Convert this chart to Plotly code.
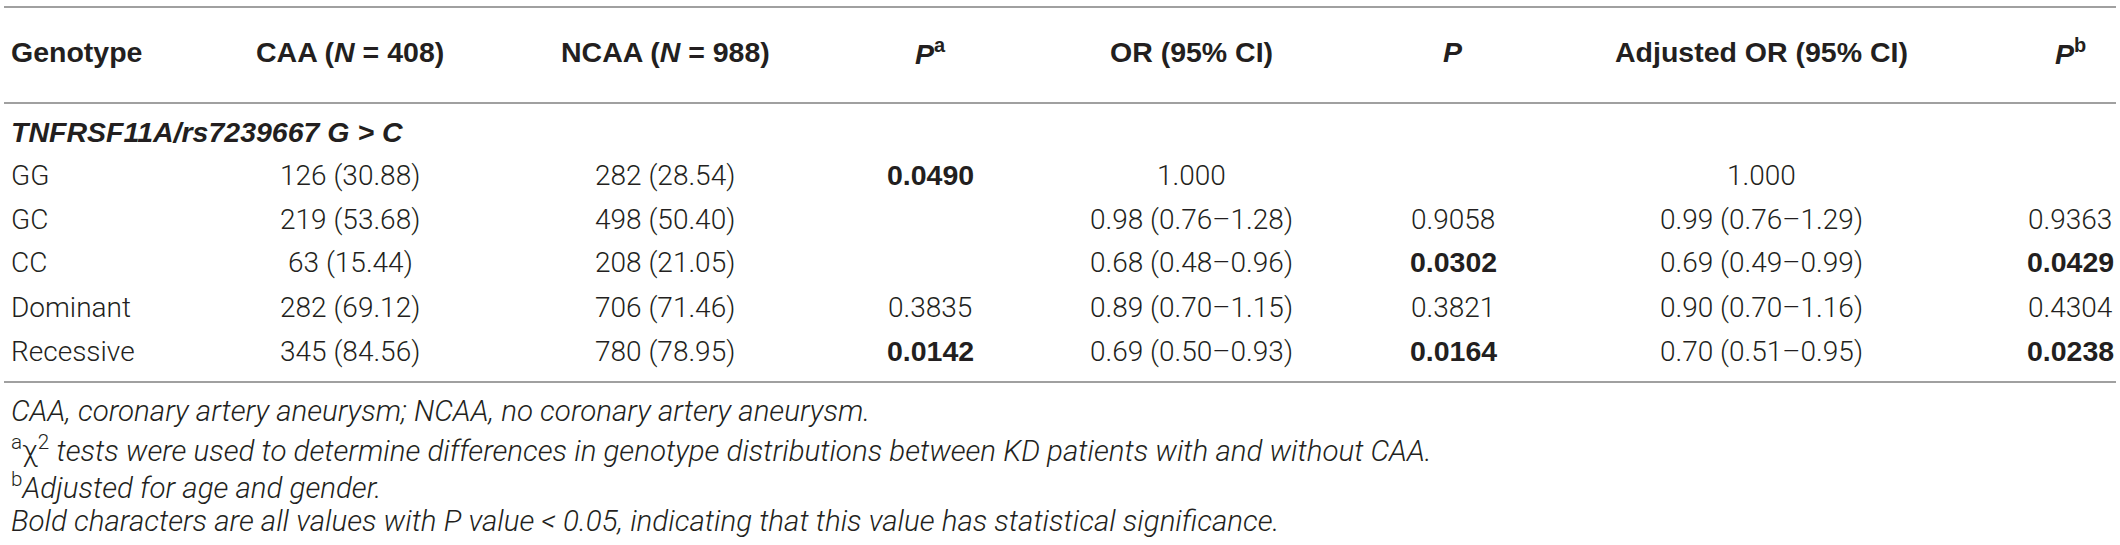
import plotly.graph_objects as go

# ---------------- data ----------------
header_labels = ["Genotype", "CAA (<i>N</i> = 408)", "NCAA (<i>N</i> = 988)", "<i>P</i><sup>a</sup>",
                 "OR (95% CI)", "<i>P</i>", "Adjusted OR (95% CI)", "<i>P</i><sup>b</sup>"]
group_label = "TNFRSF11A/rs7239667 G > C"
genotypes = ["GG", "GC", "CC", "Dominant", "Recessive"]
caa = ["126 (30.88)", "219 (53.68)", "63 (15.44)", "282 (69.12)", "345 (84.56)"]
ncaa = ["282 (28.54)", "498 (50.40)", "208 (21.05)", "706 (71.46)", "780 (78.95)"]
p_a = ["0.0490", "", "", "0.3835", "0.0142"]
or_ci = ["1.000", "0.98 (0.76–1.28)", "0.68 (0.48–0.96)", "0.89 (0.70–1.15)", "0.69 (0.50–0.93)"]
p_or = ["", "0.9058", "0.0302", "0.3821", "0.0164"]
adj_or = ["1.000", "0.99 (0.76–1.29)", "0.69 (0.49–0.99)", "0.90 (0.70–1.16)", "0.70 (0.51–0.95)"]
p_b = ["", "0.9363", "0.0429", "0.4304", "0.0238"]
footnotes = [
    "<i>CAA, coronary artery aneurysm; NCAA, no coronary artery aneurysm.</i>",
    "<sup>a</sup>χ<sup>2</sup> <i>tests were used to determine differences in genotype distributions between KD patients with and without CAA.</i>",
    "<sup>b</sup><i>Adjusted for age and gender.</i>",
    "<i>Bold characters are all values with P value &lt; 0.05, indicating that this value has statistical significance.</i>",
]
SIG = 0.05

# ---------------- layout constants ----------------
W, H = 2120, 545
col_x = [9, 350, 665, 930, 1191, 1453, 1761, 2070]
col_anchor = ["left", "center", "center", "center", "center", "center", "center", "center"]
y_top_line = 7
y_header = 52
y_header_line = 103
y_group = 132
row_y = [175, 219, 262, 307, 351]
y_bottom_line = 382
foot_y = [411, 449, 486, 521]

TXT = "#231f20"
LINE = "#a0a0a0"
HEAD_FONT = dict(family="Liberation Sans, Arial, sans-serif", size=28.5, color=TXT, weight="bold")
BODY_FONT = dict(family="Roboto, Liberation Sans, sans-serif", size=28, color=TXT, weight=300)
BOLD_FONT = dict(family="Liberation Sans, Arial, sans-serif", size=28.5, color=TXT, weight="bold")
FOOT_FONT = dict(family="Roboto, Liberation Sans, sans-serif", size=29.5, color=TXT, weight=300)

fig = go.Figure()
ann = []

def add(x, y, text, font, anchor="center"):
    ann.append(dict(x=x, y=y, xref="x", yref="y", text=text, showarrow=False,
                    xanchor=anchor, yanchor="middle", font=font))

for i, lab in enumerate(header_labels):
    add(col_x[i], y_header, lab, HEAD_FONT, col_anchor[i])

add(col_x[0], y_group, "<i>" + group_label.replace(">", "&gt;") + "</i>", HEAD_FONT, "left")

columns = [genotypes, caa, ncaa, p_a, or_ci, p_or, adj_or, p_b]
p_cols = {3, 5, 7}
for ci, col in enumerate(columns):
    for ri, val in enumerate(col):
        if val == "":
            continue
        font = BODY_FONT
        if ci in p_cols and float(val) < SIG:
            font = BOLD_FONT
        add(col_x[ci], row_y[ri], val, font, col_anchor[ci])

for fy, ft in zip(foot_y, footnotes):
    add(col_x[0], fy, ft, FOOT_FONT, "left")

shapes = []
for ly in [y_top_line, y_header_line, y_bottom_line]:
    shapes.append(dict(type="line", xref="x", yref="y", x0=4, x1=2116, y0=ly, y1=ly,
                       line=dict(color=LINE, width=2)))

fig.update_layout(
    width=W, height=H, margin=dict(l=0, r=0, t=0, b=0),
    paper_bgcolor="white", plot_bgcolor="white",
    xaxis=dict(range=[0, W], visible=False, fixedrange=True),
    yaxis=dict(range=[H, 0], visible=False, fixedrange=True),
    annotations=ann, shapes=shapes, showlegend=False,
)
fig.write_html("out.html", config={"displayModeBar": False},
               post_script="document.body.style.margin='0';document.body.style.overflow='hidden';")
